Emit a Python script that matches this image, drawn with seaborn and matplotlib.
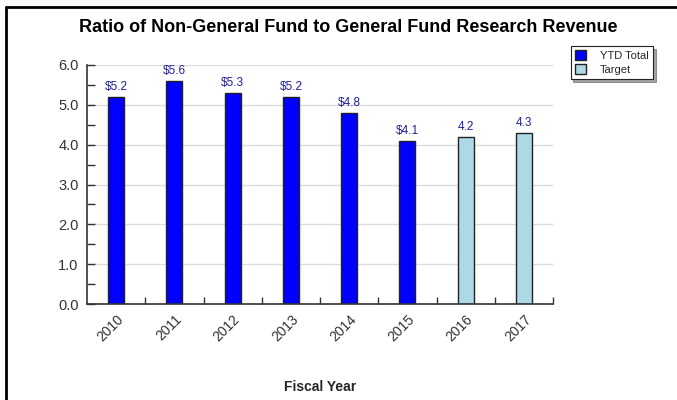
import numpy as np
import pandas as pd
import matplotlib
matplotlib.use("Agg")
import matplotlib.pyplot as plt
from matplotlib.lines import Line2D
from matplotlib.patches import Patch
from matplotlib.ticker import MultipleLocator, FixedLocator
import seaborn as sns

# chart data
years = ["2010", "2011", "2012", "2013", "2014", "2015", "2016", "2017"]
ytd_years = ["2010", "2011", "2012", "2013", "2014", "2015"]
ytd_total = [5.2, 5.6, 5.3, 5.2, 4.8, 4.1]
target_years = ["2016", "2017"]
target = [4.2, 4.3]

df = pd.concat([
    pd.DataFrame({"Year": ytd_years, "Value": ytd_total, "Series": "YTD Total"}),
    pd.DataFrame({"Year": target_years, "Value": target, "Series": "Target"}),
], ignore_index=True)

sns.set_style("white")
plt.rcParams["font.family"] = ["Liberation Sans", "DejaVu Sans"]

fig = plt.figure(figsize=(6.77, 4.0), dpi=100)
ax = fig.add_axes([0.1285, 0.24, 0.6885, 0.5975])

sns.barplot(data=df, x="Year", y="Value", hue="Series", order=years,
            hue_order=["YTD Total", "Target"], dodge=False, width=0.275,
            palette={"YTD Total": "#0000ff", "Target": "#add8e6"}, saturation=1,
            edgecolor="#222222", linewidth=1.0, ax=ax, legend=False)

# value labels
ax.bar_label(ax.containers[0], labels=[f"${v:.1f}" for v in ytd_total],
             padding=3, fontsize=8.5, color="#1f1f9a")
ax.bar_label(ax.containers[1], labels=[f"{v:.1f}" for v in target],
             padding=3, fontsize=8.5, color="#1f1f9a")

ax.set_xlim(-0.5, 7.5)
ax.set_ylim(0, 6.0)
ax.yaxis.set_major_locator(MultipleLocator(1.0))
ax.yaxis.set_minor_locator(MultipleLocator(0.5))
ax.set_yticklabels([f"{t:.1f}" for t in ax.get_yticks()])
ax.xaxis.set_minor_locator(FixedLocator(np.arange(0.5, 8.0, 1.0)))

ax.grid(axis="y", which="major", color="#dddddd", linewidth=1.0)
ax.set_axisbelow(True)
for s in ["top", "right"]:
    ax.spines[s].set_visible(False)
for s in ["left", "bottom"]:
    ax.spines[s].set_color("#333333")
    ax.spines[s].set_linewidth(1.2)

ax.tick_params(axis="y", which="both", direction="in", length=6, width=1,
               color="#333333", labelsize=10.5, labelcolor="#333333", left=True, pad=6)
ax.tick_params(axis="x", which="major", length=0, labelsize=10,
               labelcolor="#333333", pad=6)
ax.tick_params(axis="x", which="minor", direction="in", length=5, width=1,
               color="#333333", bottom=True)
plt.setp(ax.get_xticklabels(), rotation=45, ha="right", rotation_mode="anchor")

ax.set_xlabel("Fiscal Year", fontsize=10, fontweight="bold", labelpad=26)
ax.set_ylabel("")

fig.text(0.515, 0.932, "Ratio of Non-General Fund to General Fund Research Revenue",
         ha="center", va="center", fontsize=13, fontweight="bold", color="black")

# legend
handles = [Patch(facecolor="#0000ff", edgecolor="#222222", label="YTD Total"),
           Patch(facecolor="#add8e6", edgecolor="#222222", label="Target")]
leg = fig.legend(handles=handles, loc="upper left", bbox_to_anchor=(0.843, 0.885),
                 fancybox=False, shadow=True, fontsize=8, handlelength=1.0,
                 handleheight=1.0, handletextpad=1.2, borderpad=0.4,
                 labelspacing=0.25, framealpha=1, borderaxespad=0)
leg.get_frame().set_edgecolor("#222222")
leg.get_frame().set_linewidth(0.8)

# figure frame (top and left)
fig.add_artist(Line2D([0.009, 1.0], [0.9825, 0.9825], color="black", linewidth=2,
                      transform=fig.transFigure))
fig.add_artist(Line2D([0.009, 0.009], [0.0, 0.9825], color="black", linewidth=2,
                      transform=fig.transFigure))

fig.savefig("out.png", dpi=100)
